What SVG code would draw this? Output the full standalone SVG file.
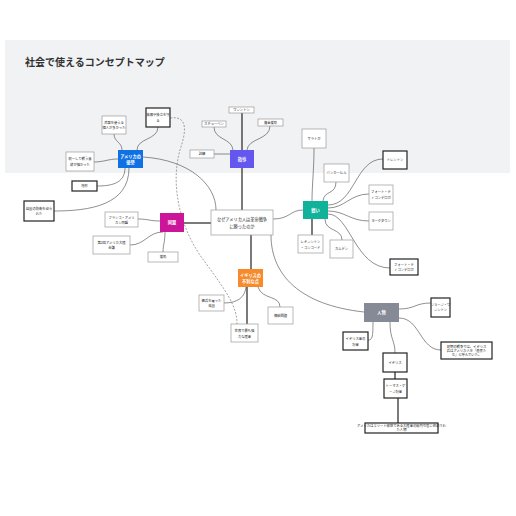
<svg xmlns="http://www.w3.org/2000/svg" width="516" height="516" viewBox="0 0 516 516">
<style>
.t{font-family:"Noto Sans CJK JP","Noto Sans",sans-serif;font-size:3.3px;fill:#222;text-anchor:middle}
.m{font-family:"Noto Sans CJK JP","Noto Sans",sans-serif;font-size:4.2px;fill:#222;text-anchor:middle}
.w{font-family:"Noto Sans CJK JP","Noto Sans",sans-serif;font-size:4.2px;fill:#fff;text-anchor:middle;font-weight:bold}
.b{fill:#fff;stroke:#9a9a9a;stroke-width:0.7}
.k{fill:#fff;stroke:#222;stroke-width:1.2}
.c{fill:none;stroke:#444;stroke-width:0.6}
.h{fill:none;stroke:#222;stroke-width:1.2}
.d{fill:none;stroke:#666;stroke-width:0.6;stroke-dasharray:2 1.5}
</style>
<rect x="0" y="0" width="516" height="516" fill="#fff"/>
<rect x="5" y="40" width="505" height="133" fill="#f1f2f4"/>
<text x="25" y="66" font-family="'Noto Sans CJK JP',sans-serif" font-size="10" font-weight="bold" fill="#333">社会で使えるコンセプトマップ</text>

<g id="connectors">
<path class="c" d="M122,150 C122,142 114,142 114,134"/>
<path class="c" d="M137,150 C137,138 158,140 158,127"/>
<path class="c" d="M118,159 C108,159 104,162 94,162"/>
<path class="c" d="M125,168 C125,184 110,186 97,186"/>
<path class="c" d="M129,168 C129,205 90,211 54,211"/>
<path class="c" d="M143,157 C190,160 216,185 216,210"/>
<path class="d" d="M170,118 C190,115 185,135 180,150 C170,185 180,230 205,262 C225,290 237,305 237,324"/>
<path class="c" d="M230,154 L214,154"/>
<path class="c" d="M214,127 C214,140 232,138 233,150"/>
<path class="h" d="M242,113 L242,150"/>
<path class="c" d="M270,126 C270,140 248,138 247,150"/>
<path class="h" d="M242,168 L242,210"/>
<path class="h" d="M184,223 L211,223"/>
<path class="c" d="M138,219 C148,219 150,221 160,221"/>
<path class="c" d="M130,245 C145,245 148,232 163,232"/>
<path class="c" d="M165,232 C165,242 163,245 163,252"/>
<path class="h" d="M251,235 L251,269"/>
<path class="c" d="M224,303 C238,303 245,297 246,287"/>
<path class="h" d="M247,287 L247,324"/>
<path class="c" d="M258,287 C262,300 280,295 280,307"/>
<path class="c" d="M273,219 C290,219 290,210 303,210"/>
<path class="c" d="M314,148 C314,170 312,185 312,201"/>
<path class="c" d="M336,182 C336,195 324,190 323,201"/>
<path class="c" d="M383,159 C355,159 355,205 328,205"/>
<path class="c" d="M369,194 C350,194 345,208 328,208"/>
<path class="c" d="M369,221 C350,221 345,211 328,211"/>
<path class="c" d="M390,268 C355,268 350,214 328,214"/>
<path class="h" d="M312,219 L312,235"/>
<path class="c" d="M325,219 C325,232 342,228 342,240"/>
<path class="c" d="M271,235 C271,275 300,305 364,312"/>
<path class="c" d="M399,309 C415,309 415,303 431,303"/>
<path class="c" d="M373,322 C373,338 372,340 368,340"/>
<path class="c" d="M390,322 C390,340 395,340 395,353"/>
<path class="c" d="M399,318 C420,318 420,350 441,350"/>
<path class="h" d="M395,372 L395,379"/>
<path class="h" d="M398,398 L398,423"/>
</g>

<g id="center"><rect class="b" x="211" y="210" width="62" height="25" stroke="#777"/><text class="m" x="242" y="221">なぜアメリカ人は革命戦争</text><text class="m" x="242" y="227.5">に勝ったのか</text></g>

<g id="n-blue"><rect x="118" y="150" width="25" height="18" fill="#1071e5"/><text class="w" x="130.5" y="158">アメリカの</text><text class="w" x="130.5" y="164">優勢</text></g>
<g id="n1"><rect class="b" x="102" y="116" width="24" height="18"/><text class="t" x="114" y="124">武器を使える</text><text class="t" x="114" y="129">個人が多かった</text></g>
<g id="n2"><rect class="k" x="146" y="108" width="24" height="19"/><text class="t" x="158" y="116">故郷や独立を守</text><text class="t" x="158" y="121.5">る</text></g>
<g id="n3"><rect class="b" x="66" y="152" width="28" height="19"/><text class="t" x="80" y="160">統一して戦う意</text><text class="t" x="80" y="165.5">欲が強かった</text></g>
<g id="n4"><rect class="k" x="72" y="181" width="25" height="10"/><text class="t" x="84.5" y="187.2">地形</text></g>
<g id="n5"><rect class="k" x="24" y="201" width="30" height="20"/><text class="t" x="39" y="209.5">自国の防衛を迫ら</text><text class="t" x="39" y="215">れた</text></g>

<g id="n-purple"><rect x="230" y="150" width="24" height="18" fill="#6457f0"/><text class="w" x="242" y="160.5">指導</text></g>
<g id="n6"><rect class="b" x="190" y="150" width="24" height="8" stroke="#333"/><text class="t" x="202" y="155.2">訓練</text></g>
<g id="n7"><rect class="b" x="202" y="121" width="24" height="6"/><text class="t" x="214" y="125.2">スチューベン</text></g>
<g id="n8"><rect class="b" x="229" y="107" width="25" height="6"/><text class="t" x="241.5" y="111.2">ワシントン</text></g>
<g id="n9"><rect class="b" x="258" y="119" width="25" height="7"/><text class="t" x="270.5" y="123.7">資金援助</text></g>

<g id="n-pink"><rect x="160" y="213" width="24" height="19" fill="#cc1599"/><text class="w" x="172" y="224">同盟</text></g>
<g id="n10"><rect class="b" x="105" y="212" width="33" height="15"/><text class="t" x="121.5" y="218.5">フランコ・アメリ</text><text class="t" x="121.5" y="223.5">カン同盟</text></g>
<g id="n11"><rect class="b" x="93" y="236" width="37" height="18"/><text class="t" x="111.5" y="243.5">第2回アメリカ大陸</text><text class="t" x="111.5" y="249">会議</text></g>
<g id="n12"><rect class="b" x="148" y="252" width="30" height="10"/><text class="t" x="163" y="258.2">援助</text></g>

<g id="n-orange"><rect x="238" y="269" width="25" height="18" fill="#f78b2c"/><text class="w" x="250.5" y="277">イギリスの</text><text class="w" x="250.5" y="283">不利な点</text></g>
<g id="n13"><rect class="b" x="199" y="295" width="25" height="16"/><text class="t" x="211.5" y="302">傭兵を雇った</text><text class="t" x="211.5" y="307">英国</text></g>
<g id="n14"><rect class="b" x="231" y="324" width="27" height="18" stroke="#555"/><text class="t" x="244.5" y="332">世界で最も強</text><text class="t" x="244.5" y="337.5">力な陸軍</text></g>
<g id="n15"><rect class="b" x="268" y="307" width="25" height="17"/><text class="t" x="280.5" y="316.5">補給問題</text></g>

<g id="n-green"><rect x="303" y="201" width="25" height="18" fill="#10b39a"/><text class="w" x="315.5" y="211.5">戦い</text></g>
<g id="n16"><rect class="b" x="302" y="129" width="24" height="19"/><text class="t" x="314" y="139.5">サラトガ</text></g>
<g id="n17"><rect class="b" x="324" y="164" width="25" height="18"/><text class="t" x="336.5" y="174">バンカーヒル</text></g>
<g id="n18"><rect class="k" x="383" y="151" width="24" height="18"/><text class="t" x="395" y="161">トレントン</text></g>
<g id="n19"><rect class="b" x="369" y="185" width="24" height="19"/><text class="t" x="381" y="193">フォート・テ</text><text class="t" x="381" y="198.5">ィコンデロガ</text></g>
<g id="n20"><rect class="b" x="369" y="212" width="24" height="18"/><text class="t" x="381" y="222">ヨークタウン</text></g>
<g id="n21"><rect class="k" x="390" y="259" width="28" height="16"/><text class="t" x="404" y="266">フォート・テ</text><text class="t" x="404" y="271">ィコンデロガ</text></g>
<g id="n22"><rect class="b" x="298" y="235" width="25" height="18"/><text class="t" x="310.5" y="243">レキシントン</text><text class="t" x="310.5" y="248.5">・コンコード</text></g>
<g id="n23"><rect class="b" x="330" y="240" width="23" height="18"/><text class="t" x="341.5" y="250">カムデン</text></g>

<g id="n-gray"><rect x="364" y="303" width="35" height="19" fill="#858a96"/><text class="w" x="381.5" y="314">人物</text></g>
<g id="n24"><rect class="k" x="431" y="298" width="19" height="19"/><text class="t" x="440.5" y="306" font-size="3">ジョージ・ワ</text><text class="t" x="440.5" y="311" font-size="3">シントン</text></g>
<g id="n25"><rect class="k" x="343" y="332" width="25" height="18"/><text class="t" x="355.5" y="340">イギリス軍の</text><text class="t" x="355.5" y="345.5">将軍</text></g>
<g id="n26"><rect class="k" x="383" y="353" width="24" height="19"/><text class="t" x="395" y="363.5">イギリス</text></g>
<g id="n27"><rect class="k" x="384" y="379" width="23" height="19"/><text class="t" x="395.5" y="387">トーマス・ゲ</text><text class="t" x="395.5" y="392.5">ージ将軍</text></g>
<g id="n28"><rect class="k" x="441" y="342" width="51" height="17"/><text class="t" x="466.5" y="347.8">初期の戦争では、イギリス</text><text class="t" x="466.5" y="352" >兵はアメリカ人を「農民た</text><text class="t" x="466.5" y="356.2">ち」と呼んでいた。</text></g>
<g id="n29"><rect class="k" x="365" y="423" width="73" height="10"/><text class="t" x="401.5" y="427.3" font-size="2.4">アメリカはエリート部隊である大陸軍の総司令官に任命され</text><text class="t" x="401.5" y="431" font-size="2.4">た人物</text></g>
</svg>
